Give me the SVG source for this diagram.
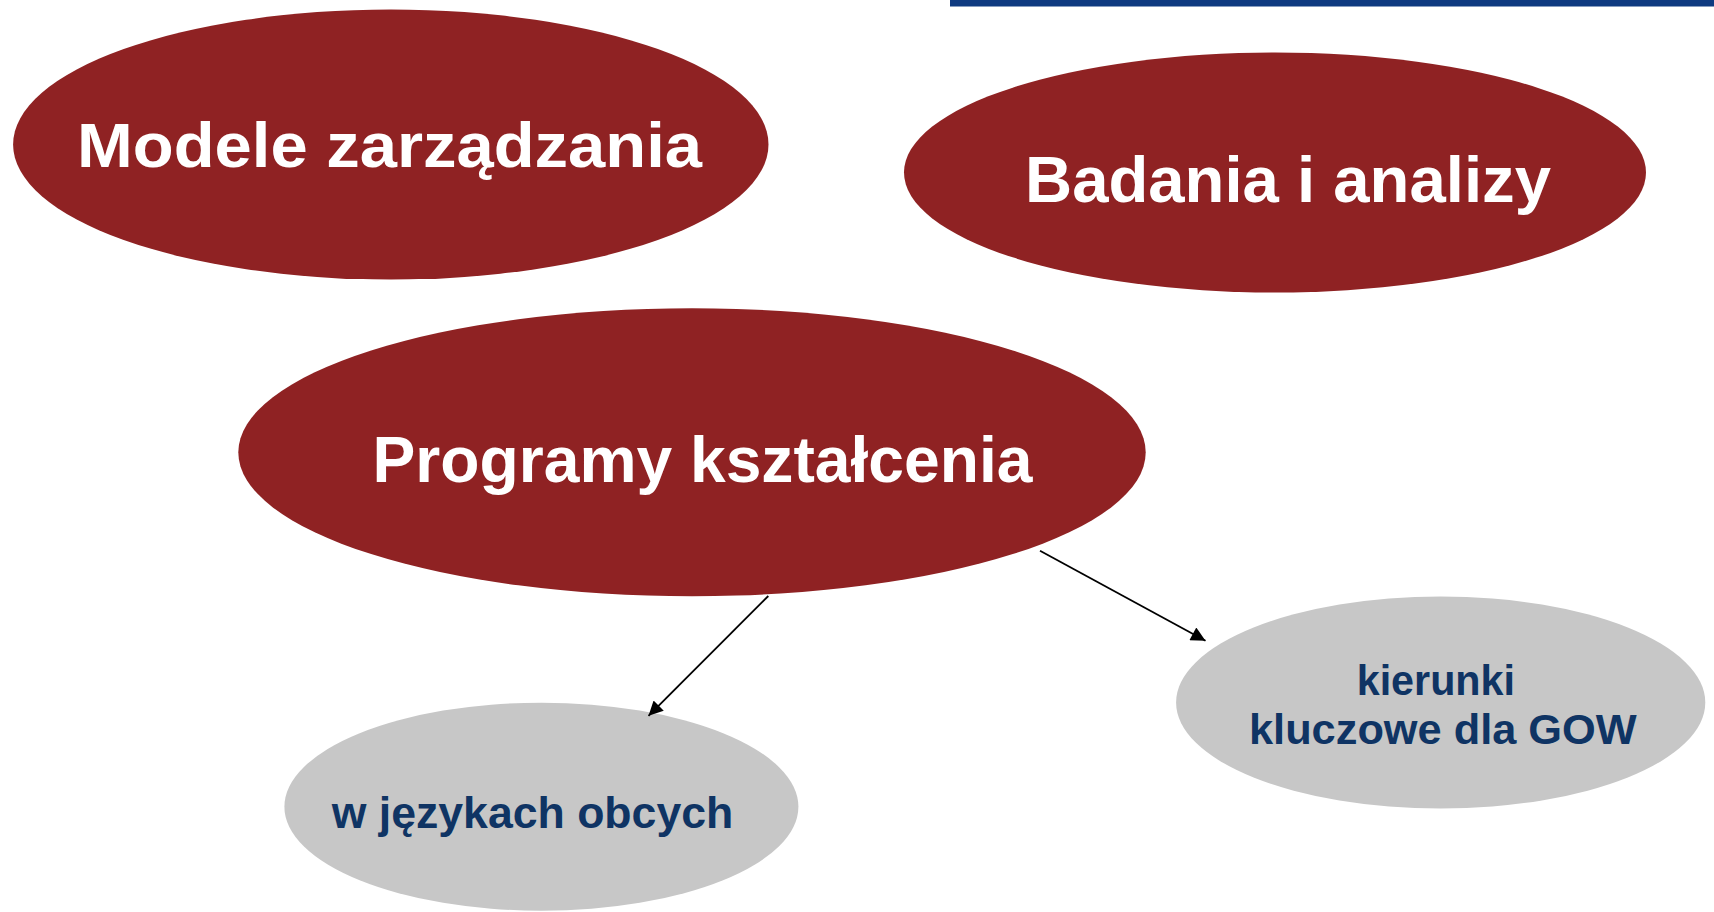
<svg xmlns="http://www.w3.org/2000/svg" width="1714" height="912" viewBox="0 0 1714 912">
<style>
.red{fill:#8f2223}
.gray{fill:#c7c7c7}
.big{font-family:"Liberation Sans",Arial,sans-serif;font-weight:700;fill:#ffffff}
.small{font-family:"Liberation Sans",Arial,sans-serif;font-weight:700;fill:#0f3464}
.conn{stroke:#000;stroke-width:1.8;fill:none}
</style>
<defs>
<marker id="arr" viewBox="0 0 10 10" refX="10" refY="5" markerWidth="9" markerHeight="8" markerUnits="strokeWidth" orient="auto">
<path d="M0,0 L10,5 L0,10 Z" fill="#000"/>
</marker>
</defs>
<rect width="1714" height="912" fill="#ffffff"/>
<rect id="topbar" x="950" y="0" width="764" height="6.5" fill="#0e3a80"/>
<g id="modele">
<ellipse class="red" cx="390.8" cy="144.5" rx="377.7" ry="135"/>
<text class="big" x="77" y="166.7" font-size="63" textLength="625" lengthAdjust="spacingAndGlyphs">Modele zarządzania</text>
</g>
<g id="badania">
<ellipse class="red" cx="1275" cy="172.5" rx="371" ry="120"/>
<text class="big" x="1025" y="201.7" font-size="64" textLength="526" lengthAdjust="spacingAndGlyphs">Badania i analizy</text>
</g>
<g id="programy">
<ellipse class="red" cx="692" cy="452.3" rx="453.7" ry="144"/>
<text class="big" x="372.5" y="481.7" font-size="64" textLength="660" lengthAdjust="spacingAndGlyphs">Programy kształcenia</text>
</g>
<g id="jezyki">
<ellipse class="gray" cx="541.4" cy="806.7" rx="257" ry="104"/>
<text class="small" x="331.7" y="828" font-size="45" textLength="401.6" lengthAdjust="spacingAndGlyphs">w językach obcych</text>
</g>
<g id="kierunki">
<ellipse class="gray" cx="1440.7" cy="702.5" rx="264.6" ry="106"/>
<text class="small" x="1356.7" y="695" font-size="43" textLength="158.3" lengthAdjust="spacingAndGlyphs">kierunki</text>
<text class="small" x="1249" y="744.3" font-size="43" textLength="387.7" lengthAdjust="spacingAndGlyphs">kluczowe dla GOW</text>
</g>
<g id="connectors">
<line class="conn" x1="768.3" y1="596" x2="648.5" y2="715.8" marker-end="url(#arr)"/>
<line class="conn" x1="1040" y1="550.7" x2="1205.5" y2="640.7" marker-end="url(#arr)"/>
</g>
</svg>
